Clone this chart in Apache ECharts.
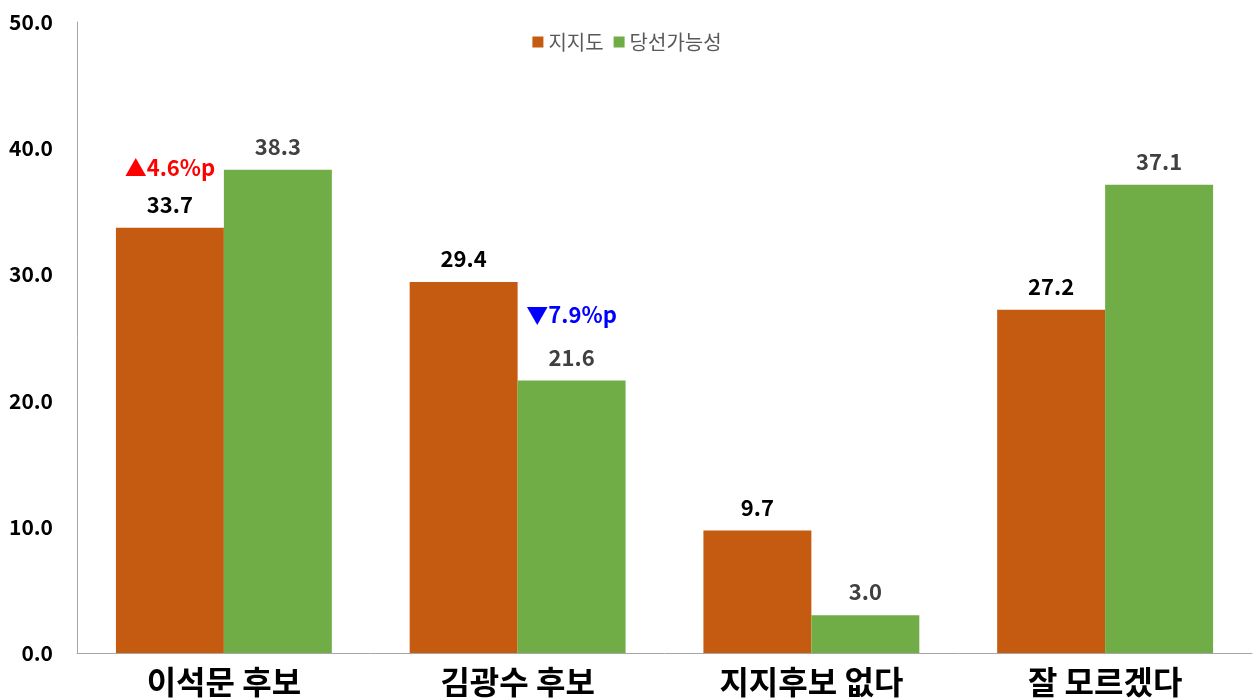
<!DOCTYPE html>
<html>
<head>
<meta charset="utf-8">
<script src="https://cdn.jsdelivr.net/npm/echarts@6/dist/echarts.min.js"></script>
<style>
html, body { margin: 0; padding: 0; background: #fff; }
#chart { width: 1254px; height: 699px; }
</style>
</head>
<body>
<div id="chart"></div>
<script>
var categories = ['이석문 후보', '김광수 후보', '지지후보 없다', '잘 모르겠다']
var seriesNames = ['지지도', '당선가능성']
var support = [33.7, 29.4, 9.7, 27.2]
var winChance = [38.3, 21.6, 3.0, 37.1]
// 지지도 -> 당선가능성 차이 표시 (카테고리 index: 문구)
var supportNotes = { 0: '▲4.6%p' }
var winNotes = { 1: '▼7.9%p' }

var font = '"Noto Sans CJK KR", "Noto Sans", sans-serif'

function makeLabel(color, notes, noteColor, noteLine) {
    return {
        show: true,
        position: 'top',
        distance: 10,
        fontFamily: font,
        fontWeight: 'bold',
        fontSize: 22,
        color: color,
        formatter: function(p) {
            var v = '{v|' + p.value.toFixed(1) + '}'
            if (notes[p.dataIndex]) {
                return '{n|' + notes[p.dataIndex] + '}\n' + v
            }
            return v
        },
        rich: {
            v: { fontFamily: font, fontWeight: 'bold', fontSize: 22, color: color, lineHeight: 26 },
            n: { fontFamily: font, fontWeight: 'bold', fontSize: 22, color: noteColor, lineHeight: noteLine }
        }
    }
}

var myChart = echarts.init(document.getElementById('chart'))
var option = {
    animation: false,
    color: ['#C55A11', '#70AD47'],
    legend: {
        top: 27,
        left: 'center',
        icon: 'rect',
        itemWidth: 11,
        itemHeight: 11,
        itemGap: 10,
        textStyle: { fontFamily: font, fontSize: 20, color: '#595959' },
        data: seriesNames
    },
    grid: { left: 77, right: 2, top: 22, bottom: 46 },
    xAxis: {
        type: 'category',
        data: categories,
        axisTick: { show: false },
        axisLine: { lineStyle: { color: '#A6A6A6', width: 1 } },
        axisLabel: {
            fontFamily: font,
            fontWeight: 'bold',
            fontSize: 32,
            color: '#000',
            margin: 13
        }
    },
    yAxis: {
        type: 'value',
        min: 0,
        max: 50,
        interval: 10,
        splitLine: { show: false },
        axisTick: { show: false },
        axisLine: { show: true, lineStyle: { color: '#A6A6A6', width: 1 } },
        axisLabel: {
            fontFamily: font,
            fontWeight: 'bold',
            fontSize: 21,
            color: '#000',
            margin: 24,
            formatter: function(v) { return v.toFixed(1) }
        }
    },
    series: [
        {
            name: seriesNames[0],
            type: 'bar',
            barGap: '0%',
            barCategoryGap: '26.5%',
            data: support,
            label: makeLabel('#000', supportNotes, '#FF0000', 48)
        },
        {
            name: seriesNames[1],
            type: 'bar',
            data: winChance,
            label: makeLabel('#404040', winNotes, '#0000FF', 60)
        }
    ]
}
myChart.setOption(option)
</script>
</body>
</html>
